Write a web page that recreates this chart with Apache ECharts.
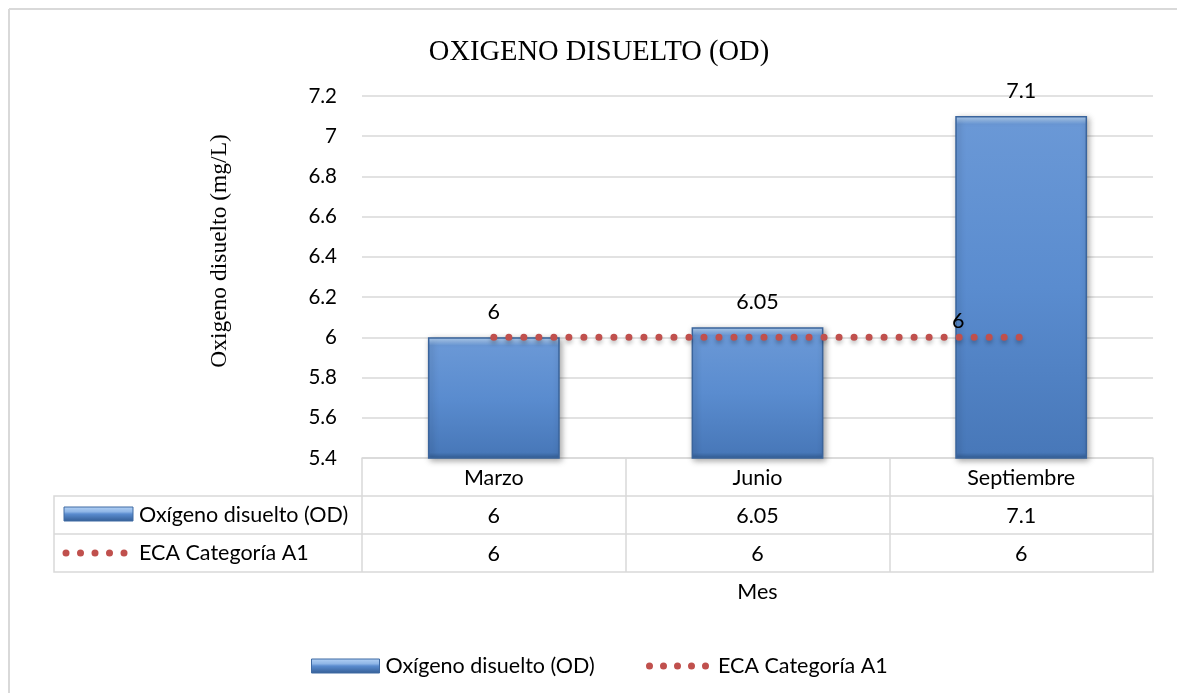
<!DOCTYPE html>
<html>
<head>
<meta charset="utf-8">
<script src="https://cdn.jsdelivr.net/npm/echarts@6/dist/echarts.min.js"></script>
<style>
  html, body { margin: 0; padding: 0; background: #fff; overflow: hidden; }
  #chart { width: 1177px; height: 693px; }
</style>
</head>
<body>
<div id="chart"></div>
<script>
// Monthly dissolved oxygen readings against the ECA A1 standard
const categories = ['Marzo', 'Junio', 'Septiembre'];
const odValues = [6, 6.05, 7.1];
const ecaValues = [6, 6, 6];
const seriesNames = ['Oxígeno disuelto (OD)', 'ECA Categoría A1'];
const Y_MIN = 5.4, Y_MAX = 7.2, Y_STEP = 0.2;

// layout of the plot and the data table beneath it
const GRID = { left: 362, right: 24, top: 96, bottom: 235 };
const W = 1177, H = 693;
const PLOT_H = H - GRID.top - GRID.bottom;
const ROW_H = 38;
const TABLE_LEFT = 54;
const FONT = 'Lato';
const FS = 21.5;
const LINE_GREY = '#d9d9d9';
const RED = '#C0504D';

function barFill(v) {
  const h = Math.max(1, (v - Y_MIN) / (Y_MAX - Y_MIN) * PLOT_H);
  const a = Math.min(0.4, 3 / h), b = Math.min(0.45, 8 / h), c = 1 - Math.min(0.3, 6 / h);
  return new echarts.graphic.LinearGradient(0, 0, 0, 1, [
    { offset: 0, color: '#b5d3f6' },
    { offset: a, color: '#9dc1ec' },
    { offset: b, color: '#6a98d6' },
    { offset: 0.5, color: '#5a8ccf' },
    { offset: c, color: '#4878b9' },
    { offset: 1, color: '#335d94' }
  ]);
}
const iconFill = new echarts.graphic.LinearGradient(0, 0, 0, 1, [
  { offset: 0, color: '#b5d3f6' },
  { offset: 0.35, color: '#8fb6e6' },
  { offset: 0.5, color: '#5a8ccf' },
  { offset: 1, color: '#335d94' }
]);

// five dots used as the legend key of the standard line
const dotsPath = 'path://' + [0, 1, 2, 3, 4].map(i => {
  const x = i * 14;
  return `M${x},3.5a3.5,3.5 0 1,0 7,0a3.5,3.5 0 1,0 -7,0Z`;
}).join(' ');

const chart = echarts.init(document.getElementById('chart'), null, { renderer: 'canvas' });

const tableRight = W - GRID.right;
const row1 = H - GRID.bottom + ROW_H;
const row2 = row1 + ROW_H;

function rowKeyDots(cy) {
  return [0, 1, 2, 3, 4].map(i => ({
    type: 'circle', shape: { cx: 66 + i * 14.5, cy: cy, r: 3.5 },
    style: { fill: RED }
  }));
}

const tableLabel = { fontFamily: FONT, fontSize: FS, lineHeight: FS, color: '#000', margin: 9 };

const option = {
  backgroundColor: '#fff',
  animation: false,
  title: {
    text: 'OXIGENO DISUELTO (OD)',
    left: 594, top: 33, textAlign: 'center',
    textStyle: { fontFamily: 'Liberation Serif', fontSize: 28.5, fontWeight: 'normal', color: '#000' }
  },
  legend: [
    {
      data: [{ name: seriesNames[0], icon: 'rect', itemStyle: { color: iconFill, borderColor: '#3f6aa3', borderWidth: 1 } }],
      left: 311, top: 655, padding: 0, itemWidth: 68, itemHeight: 14, itemGap: 8,
      textStyle: { fontFamily: FONT, fontSize: FS, color: '#000', padding: [0, 0, 0, 1] }
    },
    {
      data: [{ name: seriesNames[1], icon: dotsPath, itemStyle: { color: RED } }],
      left: 646, top: 655, padding: 0, itemWidth: 63, itemHeight: 7, itemGap: 8,
      textStyle: { fontFamily: FONT, fontSize: FS, color: '#000', padding: [0, 0, 0, 4] }
    }
  ],
  grid: { left: GRID.left, right: GRID.right, top: GRID.top, bottom: GRID.bottom, containLabel: false },
  xAxis: [
    {
      type: 'category', data: categories, position: 'bottom',
      axisLine: { show: true, lineStyle: { color: LINE_GREY, width: 1.5 } },
      axisTick: { show: true, length: 3 * ROW_H, lineStyle: { color: LINE_GREY, width: 1.5 } },
      axisLabel: tableLabel,
      name: 'Mes', nameLocation: 'middle', nameGap: 123,
      nameTextStyle: { fontFamily: FONT, fontSize: FS, color: '#000' }
    },
    {
      type: 'category', data: categories, position: 'bottom', offset: ROW_H,
      axisLine: { show: false }, axisTick: { show: false },
      axisLabel: Object.assign({}, tableLabel, { formatter: (v, i) => String(odValues[i]) })
    },
    {
      type: 'category', data: categories, position: 'bottom', offset: 2 * ROW_H,
      axisLine: { show: false }, axisTick: { show: false },
      axisLabel: Object.assign({}, tableLabel, { formatter: (v, i) => String(ecaValues[i]) })
    }
  ],
  yAxis: {
    type: 'value', min: Y_MIN, max: Y_MAX, interval: Y_STEP,
    axisLine: { show: false }, axisTick: { show: false },
    splitLine: { lineStyle: { color: LINE_GREY, width: 1.5 } },
    axisLabel: { fontFamily: FONT, fontSize: 20.5, color: '#000', margin: 25,
      formatter: v => String(Math.round(v * 100) / 100) }
  },
  series: [
    {
      name: seriesNames[0], type: 'bar', xAxisIndex: 0, barWidth: '50%',
      data: odValues.map(v => ({ value: v, itemStyle: { color: barFill(v) } })),
      itemStyle: {
        borderColor: '#3a649c', borderWidth: 1.5,
        shadowColor: 'rgba(0,0,0,0.35)', shadowBlur: 6, shadowOffsetX: 2, shadowOffsetY: 2
      },
      label: { show: true, position: 'top', distance: 14, fontFamily: FONT, fontSize: FS, color: '#000' },
      z: 2
    },
    {
      name: seriesNames[1], type: 'line', xAxisIndex: 0,
      symbol: 'circle', symbolSize: 0, showSymbol: true,
      color: RED,
      data: ecaValues.map((v, i) => i === ecaValues.length - 1
        ? { value: v, label: { show: true, position: 'top', distance: 5, offset: [-63, 0],
            fontFamily: FONT, fontSize: FS, color: '#000' } }
        : v),
      lineStyle: {
        color: RED, width: 7, type: [0.01, 15], cap: 'round',
        shadowColor: 'rgba(0,0,0,0.25)', shadowBlur: 4, shadowOffsetY: 3
      },
      z: 3
    }
  ],
  graphic: [
    // outer frame: only its top and left edges fall inside the view
    { type: 'line', shape: { x1: 9, y1: 9, x2: 9, y2: H }, style: { stroke: LINE_GREY, lineWidth: 2 }, silent: true },
    { type: 'line', shape: { x1: 9, y1: 9, x2: W, y2: 9 }, style: { stroke: LINE_GREY, lineWidth: 2 }, silent: true },
    // y axis title
    { type: 'text', x: 220, y: 251, rotation: Math.PI / 2,
      style: { text: 'Oxigeno disuelto (mg/L)', font: '23.5px "Liberation Serif"', fill: '#000',
        align: 'center', verticalAlign: 'middle' } },
    // data table borders
    { type: 'rect', shape: { x: TABLE_LEFT, y: row1, width: tableRight - TABLE_LEFT, height: 2 * ROW_H },
      style: { fill: null, stroke: LINE_GREY, lineWidth: 1.5 }, silent: true },
    { type: 'line', shape: { x1: TABLE_LEFT, y1: row2, x2: tableRight, y2: row2 },
      style: { stroke: LINE_GREY, lineWidth: 1.5 }, silent: true },
    // row keys
    { type: 'rect', shape: { x: 64, y: row1 + 11, width: 69, height: 14 },
      style: { fill: iconFill, stroke: '#3f6aa3', lineWidth: 1 } },
    { type: 'text', x: 139, y: row1 + ROW_H / 2,
      style: { text: seriesNames[0], font: `${FS}px ${FONT}`, fill: '#000', verticalAlign: 'middle' } },
    ...rowKeyDots(row2 + ROW_H / 2),
    { type: 'text', x: 139, y: row2 + ROW_H / 2,
      style: { text: seriesNames[1], font: `${FS}px ${FONT}`, fill: '#000', verticalAlign: 'middle' } }
  ]
};

chart.setOption(option);
</script>
</body>
</html>
